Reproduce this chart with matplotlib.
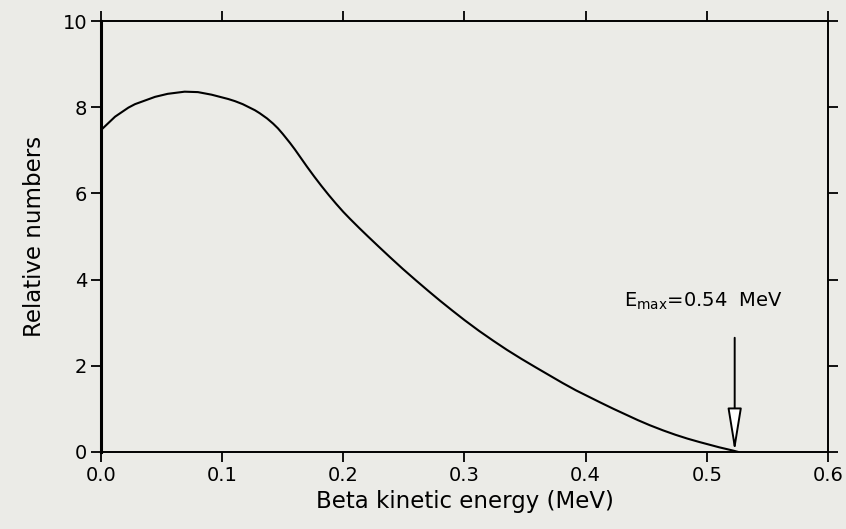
import matplotlib
matplotlib.use("Agg")
import matplotlib.pyplot as plt

# Beta spectrum
energy_mev = [0.000, 0.0116, 0.0226, 0.028, 0.0446, 0.055, 0.069, 0.080, 0.0913, 0.105,
              0.1106, 0.117, 0.127, 0.131, 0.137, 0.142, 0.146, 0.150, 0.156, 0.160,
              0.165, 0.170, 0.176, 0.182, 0.188, 0.194, 0.200, 0.2055, 0.213, 0.220,
              0.229, 0.2385, 0.249, 0.260, 0.270, 0.2798, 0.290, 0.300, 0.312, 0.3238,
              0.335, 0.347, 0.359, 0.3706, 0.381, 0.392, 0.402, 0.412, 0.423, 0.433,
              0.443, 0.453, 0.464, 0.474, 0.484, 0.494, 0.502, 0.510, 0.516, 0.522, 0.526]
rel_numbers = [7.47, 7.78, 7.99, 8.07, 8.24, 8.31, 8.36, 8.35, 8.29, 8.19,
               8.14, 8.07, 7.93, 7.86, 7.74, 7.62, 7.51, 7.38, 7.17, 7.02,
               6.82, 6.62, 6.39, 6.17, 5.96, 5.76, 5.57, 5.41, 5.20, 5.01,
               4.77, 4.52, 4.25, 3.98, 3.74, 3.51, 3.28, 3.06, 2.81, 2.58,
               2.37, 2.16, 1.96, 1.77, 1.60, 1.43, 1.29, 1.15, 1.00, 0.87,
               0.74, 0.62, 0.50, 0.40, 0.31, 0.23, 0.17, 0.11, 0.07, 0.03, 0.0]

x_ticks = [0.0, 0.1, 0.2, 0.3, 0.4, 0.5, 0.6]
x_tick_labels = ["0.0", "0.1", "0.2", "0.3", "0.4", "0.5", "0.6"]
y_ticks = [0, 2, 4, 6, 8, 10]
y_tick_labels = ["0", "2", "4", "6", "8", "10"]

emax_x = 0.523
arrow_top = 2.65
label_text = r"E$_{\rm max}$=0.54  MeV"

bg = "#ebebe7"
fig = plt.figure(figsize=(8.46, 5.29), dpi=100, facecolor=bg)
ax = fig.add_axes([0.1194, 0.1456, 0.8593, 0.8147])
ax.set_facecolor(bg)

ax.plot(energy_mev, rel_numbers, color="black", lw=1.5,
        solid_joinstyle="round", solid_capstyle="round")

ax.set_xlim(0, 0.6)
ax.set_ylim(0, 10)
ax.set_xticks(x_ticks)
ax.set_xticklabels(x_tick_labels)
ax.set_yticks(y_ticks)
ax.set_yticklabels(y_tick_labels)
ax.tick_params(direction="out", length=7, width=1.3, labelsize=14, colors="black",
               top=True, right=True, labeltop=False, labelright=False, pad=3)

for side in ["top", "bottom", "right"]:
    ax.spines[side].set_linewidth(1.4)
ax.spines["left"].set_linewidth(2.2)

ax.set_xlabel("Beta kinetic energy (MeV)", fontsize=16.5, labelpad=4)
ax.set_ylabel("Relative numbers", fontsize=16.5, labelpad=12)

ax.annotate("", xy=(emax_x, 0.0), xytext=(emax_x, arrow_top),
            arrowprops=dict(arrowstyle="-|>,head_length=1.35,head_width=0.22",
                            mutation_scale=20, fc="white", ec="black", lw=1.4,
                            shrinkA=0, shrinkB=0))
ax.text(0.432, 3.5, label_text, fontsize=14, ha="left", va="center")

fig.savefig("out.png", dpi=100, facecolor=bg)
